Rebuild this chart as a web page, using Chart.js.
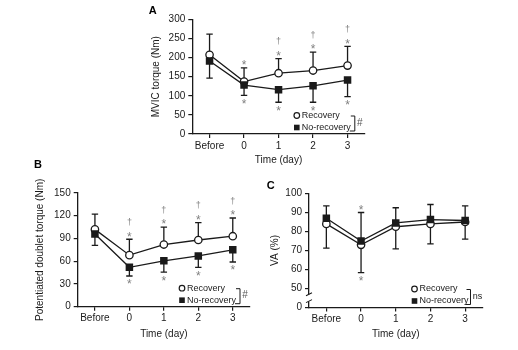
<!DOCTYPE html>
<html><head><meta charset="utf-8">
<script src="https://cdn.jsdelivr.net/npm/chart.js@4.4.1/dist/chart.umd.min.js"></script>
<style>
html,body{margin:0;padding:0;background:#fff;}
body{width:518px;height:350px;position:relative;overflow:hidden;}
canvas{position:absolute;}
</style></head><body>
<canvas id="ca" width="250" height="172" style="left:130px;top:0px"></canvas>
<canvas id="cb" width="260" height="200" style="left:0px;top:150px"></canvas>
<canvas id="cc" width="256" height="185" style="left:262px;top:165px"></canvas>
<script>
// ---- data ----
const categories = ['Before', '0', '1', '2', '3'];
const seriesNames = ['Recovery', 'No-recovery'];

const mvicRecovery = [207, 137, 159, 166, 179];
const mvicRecoveryErr = [54, 36, 38, 48, 50];
const mvicNoRecovery = [191, 128, 116, 126, 141];
const mvicNoRecoveryErr = [45, 27, 33, 43, 43];
const mvicMarkAbove = ['', '*', '†*', '†*', '†*'];
const mvicMarkBelow = ['', '*', '*', '*', '*'];

const doubletRecovery = [102, 68, 82, 88, 93];
const doubletRecoveryErr = [20, 21, 23, 23, 24];
const doubletNoRecovery = [96, 52, 60.5, 67, 75];
const doubletNoRecoveryErr = [15, 11.5, 15, 15, 16];
const doubletMarkAbove = ['', '†*', '†*', '†*', '†*'];
const doubletMarkBelow = ['', '*', '*', '*', '*'];

const vaRecovery = [84, 73, 82.5, 84, 85];
const vaRecoveryErr = [12.8, 14.6, 11.6, 10.5, 9];
const vaNoRecovery = [87, 75, 84.5, 86.3, 85.8];
const vaNoRecoveryErr = [6.5, 15, 8, 7.9, 7.7];
const vaMarkAbove = ['', '*', '', '', ''];
const vaMarkBelow = ['', '*', '', '', ''];
const vaBreakValue = 40; // axis position shown as "0" (broken axis)

const FONT = '"Liberation Sans", Arial, Helvetica, sans-serif';
const INK = '#1a1a1a';
const MARK = '#808080';

function panel(id, cfg) {
  const el = document.getElementById(id);
  const plugin = {
    id: 'extras' + id,
    beforeDatasetsDraw(chart) {
      const ctx = chart.ctx, xs = chart.scales.x, ys = chart.scales.y;
      ctx.save();
      ctx.strokeStyle = INK; ctx.lineWidth = 1.3;
      const series = [[cfg.rec, cfg.recErr, cfg.recDir], [cfg.no, cfg.noErr, cfg.noDir]];
      for (const [vals, errs, dir] of series) {
        vals.forEach((v, i) => {
          const x = xs.getPixelForTick(i);
          const y0 = ys.getPixelForValue(v), y1 = ys.getPixelForValue(v + dir * errs[i]);
          ctx.beginPath(); ctx.moveTo(x, y0); ctx.lineTo(x, y1);
          ctx.moveTo(x - 3.2, y1); ctx.lineTo(x + 3.2, y1); ctx.stroke();
        });
      }
      ctx.restore();
    },
    afterDraw(chart) {
      const ctx = chart.ctx, xs = chart.scales.x, ys = chart.scales.y, ca = chart.chartArea;
      ctx.save();
      // significance marks
      ctx.fillStyle = MARK; ctx.textAlign = 'center'; ctx.textBaseline = 'alphabetic';
      categories.forEach((c, i) => {
        const x = xs.getPixelForTick(i);
        const tops = [cfg.rec[i], cfg.no[i]];
        const bots = [cfg.rec[i], cfg.no[i]];
        if (cfg.recDir > 0) tops.push(cfg.rec[i] + cfg.recErr[i]); else bots.push(cfg.rec[i] - cfg.recErr[i]);
        if (cfg.noDir > 0) tops.push(cfg.no[i] + cfg.noErr[i]); else bots.push(cfg.no[i] - cfg.noErr[i]);
        const yTop = ys.getPixelForValue(Math.max(...tops));
        const yBot = ys.getPixelForValue(Math.min(...bots));
        const above = cfg.above[i];
        if (above.includes('*')) {
          const cy = yTop - 5.5;
          ctx.font = '12px ' + FONT; ctx.fillText('*', x, cy + 6.8);
          if (above.includes('†')) { ctx.font = '9px ' + FONT; ctx.fillText('†', x, cy - 11.5 + 2.6); }
        }
        if (cfg.below[i].includes('*')) {
          const cy = yBot + 5.5;
          ctx.font = '12px ' + FONT; ctx.fillText('*', x, cy + 6.8);
        }
      });
      // legend
      const mx = ca.right - 68, r1 = ca.bottom - 18.5, r2 = ca.bottom - 6.5;
      ctx.fillStyle = '#fff'; ctx.strokeStyle = INK; ctx.lineWidth = 1.2;
      ctx.beginPath(); ctx.arc(mx, r1, 2.8, 0, Math.PI * 2); ctx.fill(); ctx.stroke();
      ctx.fillStyle = INK; ctx.fillRect(mx - 2.8, r2 - 2.8, 5.6, 5.6);
      ctx.font = '9px ' + FONT; ctx.textAlign = 'left'; ctx.textBaseline = 'middle';
      ctx.fillText(seriesNames[0], mx + 5, r1);
      ctx.fillText(seriesNames[1], mx + 5, r2);
      const bx = ca.right - cfg.bracketOff;
      ctx.lineWidth = 1;
      ctx.beginPath(); ctx.moveTo(bx - 4, r1 + 0.5); ctx.lineTo(bx, r1 + 0.5); ctx.lineTo(bx, r2 + 3.5); ctx.lineTo(bx - 5, r2 + 3.5); ctx.stroke();
      ctx.font = cfg.sigFont + ' ' + FONT; ctx.fillStyle = cfg.sigColor;
      ctx.fillText(cfg.sig, bx + 2.2, (r1 + r2) / 2 + 1.5);
      // panel letter
      ctx.fillStyle = '#000'; ctx.font = 'bold 11px ' + FONT; ctx.textAlign = 'center';
      ctx.fillText(cfg.letter, cfg.letterX, cfg.letterY);
      // axis break
      if (cfg.axisBreak) {
        const x = ca.left;
        const ya = ys.getPixelForValue(cfg.axisBreak[0]), yb = ys.getPixelForValue(cfg.axisBreak[1]);
        ctx.fillStyle = '#fff'; ctx.fillRect(x - 1.5, yb, 3, ya - yb);
        ctx.strokeStyle = INK; ctx.lineWidth = 1.1;
        ctx.beginPath();
        ctx.moveTo(x - 3, ya + 1.2); ctx.lineTo(x + 3, ya - 1.8);
        ctx.moveTo(x - 3, yb + 1.2); ctx.lineTo(x + 3, yb - 1.8);
        ctx.stroke();
      }
      ctx.restore();
    }
  };
  const tickFont = { family: FONT, size: 10 };
  return new Chart(el, {
    type: 'line',
    data: {
      labels: categories,
      datasets: [
        { label: seriesNames[0], data: cfg.rec, order: 1, borderColor: INK, borderWidth: 1.3, tension: 0, fill: false,
          pointStyle: 'circle', pointRadius: 3.7, pointBorderWidth: 1.3, pointBackgroundColor: '#fff', pointBorderColor: INK },
        { label: seriesNames[1], data: cfg.no, order: 0, borderColor: INK, borderWidth: 1.3, tension: 0, fill: false,
          pointStyle: 'rect', pointRadius: 5.3, pointBorderWidth: 0, pointBackgroundColor: INK, pointBorderColor: INK }
      ]
    },
    options: {
      responsive: false, animation: false, events: [],
      layout: { autoPadding: false, padding: cfg.padding },
      plugins: { legend: { display: false }, tooltip: { enabled: false } },
      scales: {
        x: {
          type: 'category', offset: true,
          grid: { drawOnChartArea: false, drawTicks: true, tickLength: 4, color: INK, lineWidth: 1.2 },
          border: { color: INK, width: 1.3 },
          ticks: { font: tickFont, color: INK, padding: 2, maxRotation: 0, autoSkip: false },
          title: { display: true, text: 'Time (day)', font: tickFont, color: INK, padding: { top: 0, bottom: cfg.xTitlePad } },
          afterFit(s) { s.height = cfg.xH; }
        },
        y: {
          type: 'linear', min: cfg.min, max: cfg.max,
          grid: { drawOnChartArea: false, drawTicks: true, tickLength: 4, color: INK, lineWidth: 1.2 },
          border: { color: INK, width: 1.3 },
          ticks: { font: tickFont, color: INK, padding: 3, stepSize: cfg.step, callback: cfg.tickCb || (v => v) },
          title: { display: true, text: cfg.yTitle, font: tickFont, color: INK, padding: { top: 0, bottom: 0 } },
          afterFit(s) { s.width = cfg.yW; }
        }
      }
    },
    plugins: [plugin]
  });
}

panel('ca', {
  rec: mvicRecovery, recErr: mvicRecoveryErr, recDir: 1,
  no: mvicNoRecovery, noErr: mvicNoRecoveryErr, noDir: -1,
  above: mvicMarkAbove, below: mvicMarkBelow,
  min: 0, max: 300, step: 50, yTitle: 'MVIC torque (Nm)',
  padding: { left: 20.7, top: 19.3, right: 15.2, bottom: 0 }, yW: 41.6, xH: 38, xTitlePad: 6,
  letter: 'A', letterX: 22.7, letterY: 11, sig: '#', sigFont: '10px', sigColor: '#555', bracketOff: 10
});
panel('cb', {
  rec: doubletRecovery, recErr: doubletRecoveryErr, recDir: 1,
  no: doubletNoRecovery, noErr: doubletNoRecoveryErr, noDir: -1,
  above: doubletMarkAbove, below: doubletMarkBelow,
  min: 0, max: 150, step: 30, yTitle: 'Potentiated doublet torque (Nm)',
  padding: { left: 34, top: 43, right: 10, bottom: 0 }, yW: 43.7, xH: 43.3, xTitlePad: 10,
  letter: 'B', letterX: 38, letterY: 15, sig: '#', sigFont: '10px', sigColor: '#555', bracketOff: 10
});
panel('cc', {
  rec: vaRecovery, recErr: vaRecoveryErr, recDir: -1,
  no: vaNoRecovery, noErr: vaNoRecoveryErr, noDir: 1,
  above: vaMarkAbove, below: vaMarkBelow,
  min: vaBreakValue, max: 100, step: 10, yTitle: 'VA (%)',
  tickCb: v => (v === vaBreakValue ? '0' : v),
  padding: { left: 7, top: 28.5, right: 35.5, bottom: 0 }, yW: 40, xH: 42.5, xTitlePad: 10,
  letter: 'C', letterX: 8.7, letterY: 21, sig: 'ns', sigFont: '9px', sigColor: INK, bracketOff: 12,
  axisBreak: [43.2, 46.8]
});
</script>
</body></html>
